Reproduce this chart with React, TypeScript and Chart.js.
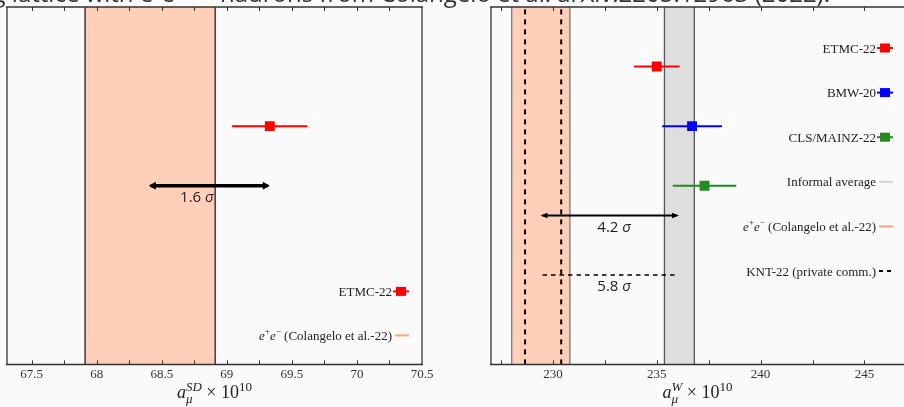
import React, { useEffect, useRef } from "react";
import { Chart, registerables } from "chart.js";

Chart.register(...registerables);

// ---------------- shared ----------------
const TITLE = "Comparing lattice with e⁺e⁻ → hadrons from Colangelo et al. arXiv:2205.12963 (2022).";
const ROW_RANGE = [0, 6];
const EE_LABEL = "e+e− (Colangelo et al.-22)";
const AVG_LABEL = "Informal average";
const KNT_LABEL = "KNT-22 (private comm.)";

// ---------------- left panel: a_mu^SD x 10^10 ----------------
const SD_NAMES = ["ETMC-22"];
const SD_VALUES = [69.33];
const SD_ERRORS = [0.29];
const SD_COLORS = ["#ff0000"];
const SD_ROWS = [4];
const SD_EE_VALUE = 68.41;
const SD_EE_ERROR = 0.5;
const SD_X_RANGE = [67.31, 70.5];
const SD_TICK_STEP = 0.25;
const SD_TICK_LABELS = ["67.5", "68", "68.5", "69", "69.5", "70", "70.5"];
const SD_TENSION_LABELS = ["1.6"];
const SD_TENSION_FROM = [68.4];
const SD_TENSION_TO = [69.33];
const SD_TENSION_ROWS = [3];
const SD_TENSION_LABEL_X = [68.77];
const SD_TENSION_DASHED = [false];

// ---------------- right panel: a_mu^W x 10^10 ----------------
const W_NAMES = ["ETMC-22", "BMW-20", "CLS/MAINZ-22"];
const W_VALUES = [235.0, 236.7, 237.3];
const W_ERRORS = [1.1, 1.44, 1.53];
const W_COLORS = ["#ff0000", "#0000ff", "#228b22"];
const W_ROWS = [5, 4, 3];
const W_AVG_VALUE = 236.09;
const W_AVG_ERROR = 0.72;
const W_EE_VALUE = 229.42;
const W_EE_ERROR = 1.4;
const W_KNT_VALUE = 229.53;
const W_KNT_ERROR = 0.87;
const W_X_RANGE = [227.02, 247.0];
const W_TICK_STEP = 2.5;
const W_TICK_LABELS = ["230", "235", "240", "245"];
const W_TENSION_LABELS = ["4.2", "5.8"];
const W_TENSION_FROM = [229.4, 229.5];
const W_TENSION_TO = [236.07, 236.05];
const W_TENSION_ROWS = [2.5, 1.5];
const W_TENSION_LABEL_X = [232.95, 232.95];
const W_TENSION_DASHED = [false, true];

// ---------------- styling ----------------
const SERIF = '"Liberation Serif", "DejaVu Serif", serif';
const SANS = '"Open Sans", "DejaVu Sans", sans-serif';
const ORANGE_FILL = "#ffcfb9";
const ORANGE_LINE = "#ffa07a";
const GRAY_FILL = "#dedede";
const GRAY_LINE = "#d3d3d3";

type Seg = { t: string; it?: boolean; sup?: boolean; sub?: boolean; stack?: boolean };

function segFont(base: number, s: Seg) {
  const size = s.sup || s.sub ? Math.round(base * 0.7) : base;
  return `${s.it ? "italic " : ""}${size}px ${SERIF}`;
}

function layoutRich(ctx: CanvasRenderingContext2D, segs: Seg[], base: number) {
  let x = 0;
  let prevStart = 0;
  let prevW = 0;
  const out: { s: Seg; x: number }[] = [];
  for (const s of segs) {
    ctx.font = segFont(base, s);
    const w = ctx.measureText(s.t).width;
    if (s.stack) {
      out.push({ s, x: prevStart });
      x = prevStart + Math.max(prevW, w);
    } else {
      out.push({ s, x });
      prevStart = x;
      prevW = w;
      x += w;
    }
  }
  return { items: out, width: x };
}

function drawRich(
  ctx: CanvasRenderingContext2D,
  segs: Seg[],
  base: number,
  x: number,
  y: number,
  align: "left" | "center" | "right",
  color: string
) {
  const { items, width } = layoutRich(ctx, segs, base);
  const x0 = align === "left" ? x : align === "center" ? x - width / 2 : x - width;
  ctx.fillStyle = color;
  ctx.textAlign = "left";
  ctx.textBaseline = "alphabetic";
  for (const it of items) {
    ctx.font = segFont(base, it.s);
    const dy = it.s.sup ? -base * 0.42 : it.s.sub ? base * 0.25 : 0;
    ctx.fillText(it.s.t, x0 + it.x, y + dy);
  }
}

function labelSegs(label: string): Seg[] {
  if (label.startsWith("e+e−")) {
    return [
      { t: "e", it: true },
      { t: "+", sup: true },
      { t: "e", it: true },
      { t: "−", sup: true },
      { t: label.slice(4) },
    ];
  }
  return [{ t: label }];
}

const panelPlugin = {
  id: "panel",
  beforeDatasetsDraw(chart: any, _a: any, o: any) {
    const { ctx, chartArea: ca } = chart;
    const xs = chart.scales.x;
    ctx.save();
    for (const b of o.bands) {
      const x0 = xs.getPixelForValue(b.value - b.error);
      const x1 = xs.getPixelForValue(b.value + b.error);
      ctx.fillStyle = b.fill;
      ctx.fillRect(x0, ca.top, x1 - x0, ca.bottom - ca.top);
      ctx.strokeStyle = b.edge;
      ctx.lineWidth = b.edgeWidth;
      ctx.beginPath();
      ctx.moveTo(x0, ca.top);
      ctx.lineTo(x0, ca.bottom);
      ctx.moveTo(x1, ca.top);
      ctx.lineTo(x1, ca.bottom);
      ctx.stroke();
    }
    ctx.restore();
  },
  afterDatasetsDraw(chart: any, _a: any, o: any) {
    const { ctx, chartArea: ca } = chart;
    const xs = chart.scales.x;
    const ys = chart.scales.y;
    ctx.save();

    // tension arrows
    o.tensions.forEach((t: any) => {
      const x0 = xs.getPixelForValue(t.from);
      const x1 = xs.getPixelForValue(t.to);
      const y = ys.getPixelForValue(t.row);
      ctx.strokeStyle = "#000";
      ctx.fillStyle = "#000";
      ctx.lineWidth = t.width;
      ctx.lineCap = t.dashed ? "butt" : "round";
      ctx.setLineDash(t.dashed ? [4.5, 4] : []);
      ctx.beginPath();
      ctx.moveTo(x0 + (t.dashed ? 0 : 3), y);
      ctx.lineTo(x1 - (t.dashed ? 0 : 3), y);
      ctx.stroke();
      ctx.setLineDash([]);
      if (!t.dashed) {
        const hl = 7;
        const hw = t.width + 0.6;
        ctx.beginPath();
        ctx.moveTo(x0, y);
        ctx.lineTo(x0 + hl, y - hw);
        ctx.lineTo(x0 + hl, y + hw);
        ctx.closePath();
        ctx.moveTo(x1, y);
        ctx.lineTo(x1 - hl, y - hw);
        ctx.lineTo(x1 - hl, y + hw);
        ctx.closePath();
        ctx.fill();
      }
      const lx = xs.getPixelForValue(t.labelX);
      const ly = y + 12;
      ctx.font = `15px ${SANS}`;
      const numW = ctx.measureText(t.label + " ").width;
      ctx.font = `italic 15px ${SANS}`;
      const sW = ctx.measureText("σ").width;
      const start = lx - (numW + sW) / 2;
      ctx.fillStyle = "#222";
      ctx.textAlign = "left";
      ctx.textBaseline = "middle";
      ctx.font = `15px ${SANS}`;
      ctx.fillText(t.label + " ", start, ly);
      ctx.font = `italic 15px ${SANS}`;
      ctx.fillText("σ", start + numW, ly);
    });
    ctx.lineCap = "butt";

    // legend
    const n = o.legend.length;
    o.legend.forEach((e: any, i: number) => {
      const y =
        o.legendAnchor === "top"
          ? ca.top + o.legendOffset + i * o.legendStep
          : ca.bottom - o.legendOffset - (n - 1 - i) * o.legendStep;
      const mx = ca.right - 21;
      if (e.kind === "point") {
        ctx.strokeStyle = e.color;
        ctx.lineWidth = 2;
        ctx.beginPath();
        ctx.moveTo(mx - 8, y);
        ctx.lineTo(mx + 8, y);
        ctx.stroke();
        ctx.fillStyle = e.color;
        ctx.fillRect(mx - 5, y - 4.5, 10, 9);
      } else {
        ctx.strokeStyle = e.color;
        ctx.lineWidth = 2;
        ctx.setLineDash(e.dashed ? [4, 4] : []);
        ctx.beginPath();
        ctx.moveTo(mx - 6, y);
        ctx.lineTo(mx + 8, y);
        ctx.stroke();
        ctx.setLineDash([]);
      }
      drawRich(ctx, labelSegs(e.label), 13, ca.right - 30, y + 4.5, "right", "#222");
    });

    // ticks (inward, top and bottom)
    ctx.strokeStyle = "#333";
    ctx.lineWidth = 1;
    ctx.beginPath();
    for (const t of xs.ticks) {
      const px = Math.round(xs.getPixelForValue(t.value)) + 0.5;
      ctx.moveTo(px, ca.bottom);
      ctx.lineTo(px, ca.bottom - 4);
      ctx.moveTo(px, ca.top);
      ctx.lineTo(px, ca.top + 4);
    }
    ctx.stroke();

    // frame
    ctx.strokeStyle = "#7a7a7a";
    ctx.lineWidth = 2;
    ctx.beginPath();
    ctx.moveTo(ca.left, ca.top);
    ctx.lineTo(ca.left, ca.bottom);
    ctx.moveTo(ca.right, ca.top);
    ctx.lineTo(ca.right, ca.bottom);
    ctx.stroke();
    ctx.strokeStyle = "#333";
    ctx.lineWidth = 1.5;
    ctx.beginPath();
    ctx.moveTo(ca.left - 1, ca.top);
    ctx.lineTo(ca.right + 1, ca.top);
    ctx.moveTo(ca.left - 1, ca.bottom);
    ctx.lineTo(ca.right + 1, ca.bottom);
    ctx.stroke();

    // axis title
    const cx = (ca.left + ca.right) / 2 - o.titleShift;
    drawRich(
      ctx,
      [
        { t: "a", it: true },
        { t: "μ", it: true, sub: true },
        { t: o.sup, it: true, sup: true, stack: true },
        { t: " × 10" },
        { t: "10", sup: true },
      ],
      18,
      cx,
      ca.bottom + 34,
      "center",
      "#222"
    );
    ctx.restore();
  },
};

function pointDatasets(names: string[], values: number[], errors: number[], colors: string[], rows: number[]) {
  const ds: any[] = [];
  names.forEach((name, i) => {
    ds.push({
      label: name,
      data: [{ x: values[i], y: rows[i] }],
      pointStyle: "rect",
      pointRadius: 7,
      backgroundColor: colors[i],
      borderWidth: 0,
      order: 0,
    });
    ds.push({
      label: name + " error",
      data: [
        { x: values[i] - errors[i], y: rows[i] },
        { x: values[i] + errors[i], y: rows[i] },
      ],
      showLine: true,
      borderColor: colors[i],
      borderWidth: 2,
      pointRadius: 0,
      order: 1,
    });
  });
  return ds;
}

function tickFilter(range: number[], step: number) {
  return (scale: any) => {
    const ticks: { value: number }[] = [];
    const start = Math.ceil((range[0] - 1e-9) / step);
    for (let k = start; k * step <= range[1] + 1e-9; k++) ticks.push({ value: +(k * step).toFixed(4) });
    scale.ticks = ticks;
  };
}

function tickLabel(labels: string[]) {
  return (value: any) => {
    const s = String(Number(Number(value).toFixed(2)));
    return labels.includes(s) ? s : "";
  };
}

function tensions(labels: string[], from: number[], to: number[], rows: number[], lx: number[], dashed: boolean[], width: number) {
  return labels.map((l, i) => ({
    label: l,
    from: from[i],
    to: to[i],
    row: rows[i],
    labelX: lx[i],
    dashed: dashed[i],
    width: dashed[i] ? 1.5 : width,
  }));
}

function baseOptions(range: number[], step: number, labels: string[], padding: any, panel: any) {
  return {
    responsive: false,
    animation: false,
    devicePixelRatio: 1,
    layout: { padding },
    plugins: { legend: { display: false }, tooltip: { enabled: false }, panel },
    scales: {
      x: {
        type: "linear",
        min: range[0],
        max: range[1],
        grid: { display: false, drawTicks: false },
        border: { display: false },
        afterBuildTicks: tickFilter(range, step),
        ticks: {
          callback: tickLabel(labels),
          font: { family: SERIF, size: 13 },
          color: "#333",
          padding: 2,
          maxRotation: 0,
          autoSkip: false,
        },
      },
      y: { type: "linear", min: ROW_RANGE[0], max: ROW_RANGE[1], display: false },
    },
  };
}

function sdConfig(): any {
  return {
    type: "scatter",
    data: { datasets: pointDatasets(SD_NAMES, SD_VALUES, SD_ERRORS, SD_COLORS, SD_ROWS) },
    options: baseOptions(SD_X_RANGE, SD_TICK_STEP, SD_TICK_LABELS, { left: 7, right: 38, top: 6, bottom: 23 }, {
      bands: [{ value: SD_EE_VALUE, error: SD_EE_ERROR, fill: ORANGE_FILL, edge: "#111", edgeWidth: 1.2 }],
      tensions: tensions(SD_TENSION_LABELS, SD_TENSION_FROM, SD_TENSION_TO, SD_TENSION_ROWS, SD_TENSION_LABEL_X, SD_TENSION_DASHED, 3.4),
      legend: [
        ...SD_NAMES.map((nm, i) => ({ label: nm, kind: "point", color: SD_COLORS[i] })),
        { label: EE_LABEL, kind: "line", color: ORANGE_LINE },
      ],
      legendAnchor: "bottom",
      legendOffset: 29,
      legendStep: 44,
      sup: "SD",
      titleShift: 0,
    }),
    plugins: [panelPlugin],
  };
}

function wConfig(): any {
  const knt = [W_KNT_VALUE - W_KNT_ERROR, W_KNT_VALUE + W_KNT_ERROR].map((v) => ({
    label: "KNT-22",
    data: [
      { x: v, y: ROW_RANGE[0] },
      { x: v, y: ROW_RANGE[1] },
    ],
    showLine: true,
    borderColor: "#000",
    borderWidth: 2,
    borderDash: [5, 5],
    pointRadius: 0,
    order: 2,
  }));
  return {
    type: "scatter",
    data: { datasets: [...pointDatasets(W_NAMES, W_VALUES, W_ERRORS, W_COLORS, W_ROWS), ...knt] },
    options: baseOptions(W_X_RANGE, W_TICK_STEP, W_TICK_LABELS, { left: 31, right: 44, top: 6, bottom: 23 }, {
      bands: [
        { value: W_EE_VALUE, error: W_EE_ERROR, fill: ORANGE_FILL, edge: "#555", edgeWidth: 1 },
        { value: W_AVG_VALUE, error: W_AVG_ERROR, fill: GRAY_FILL, edge: "#555", edgeWidth: 1.3 },
      ],
      tensions: tensions(W_TENSION_LABELS, W_TENSION_FROM, W_TENSION_TO, W_TENSION_ROWS, W_TENSION_LABEL_X, W_TENSION_DASHED, 2.2),
      legend: [
        ...W_NAMES.map((nm, i) => ({ label: nm, kind: "point", color: W_COLORS[i] })),
        { label: AVG_LABEL, kind: "line", color: GRAY_LINE },
        { label: EE_LABEL, kind: "line", color: ORANGE_LINE },
        { label: KNT_LABEL, kind: "line", color: "#000", dashed: true },
      ],
      legendAnchor: "top",
      legendOffset: 41,
      legendStep: 44.6,
      sup: "W",
      titleShift: 1,
    }),
    plugins: [panelPlugin],
  };
}

function ChartCanvas({ config, left, width }: { config: () => any; left: number; width: number }) {
  const ref = useRef<HTMLCanvasElement | null>(null);
  useEffect(() => {
    if (!ref.current) return;
    const chart = new Chart(ref.current, config());
    return () => chart.destroy();
  }, [config]);
  return (
    <canvas
      ref={ref}
      width={width}
      height={407}
      style={{ position: "absolute", left, top: 0, width, height: 407 }}
    />
  );
}

export default function App() {
  return (
    <div
      style={{
        position: "fixed",
        left: 0,
        top: 0,
        width: 904,
        height: 407,
        overflow: "hidden",
        background: "#fafafa",
      }}
    >
      <ChartCanvas config={sdConfig} left={0} width={460} />
      <ChartCanvas config={wConfig} left={460} width={490} />
      <div
        style={{
          position: "absolute",
          right: 74,
          top: -19,
          whiteSpace: "nowrap",
          fontFamily: SANS,
          fontSize: 24,
          lineHeight: "24px",
          color: "#333",
        }}
      >
        {TITLE}
      </div>
    </div>
  );
}
